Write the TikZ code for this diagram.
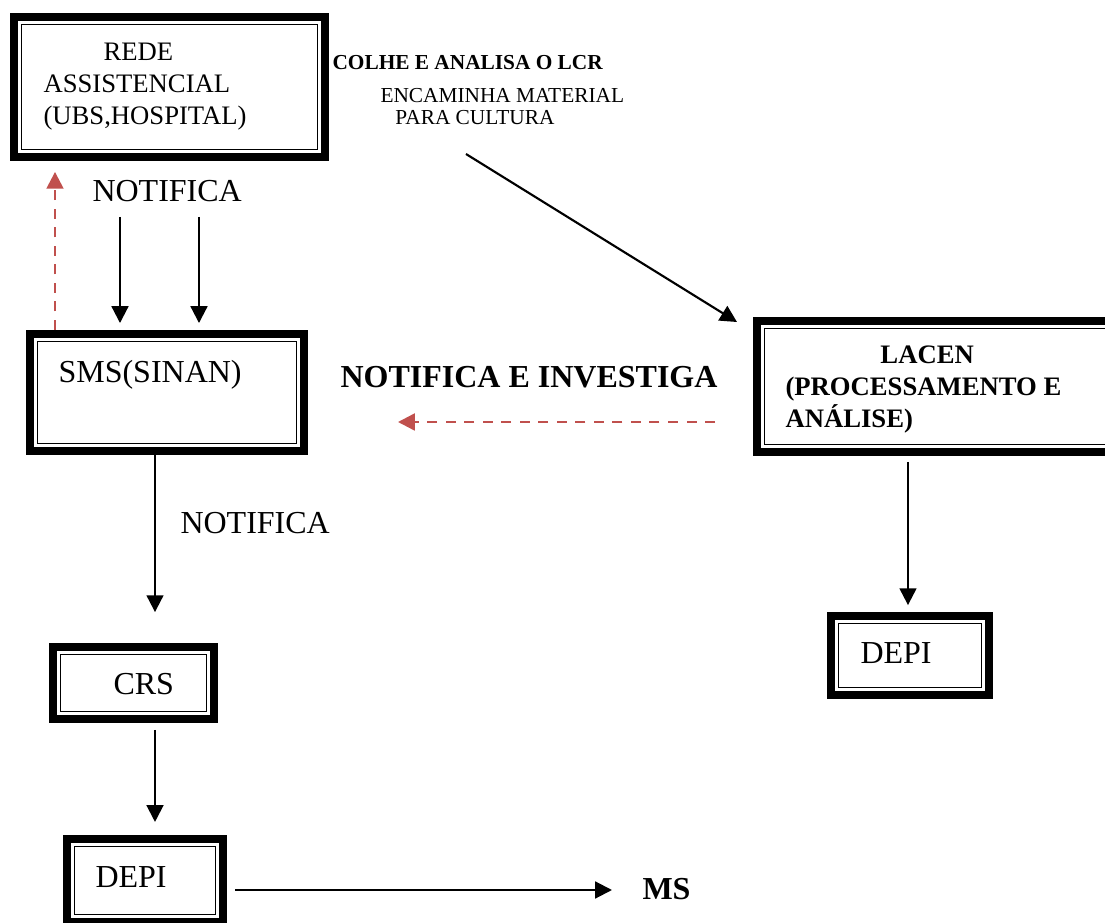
\documentclass[tikz,border=0pt]{standalone}
\usepackage{fontspec}
\setmainfont{Liberation Serif}
\usetikzlibrary{arrows.meta}
\definecolor{flowred}{HTML}{C0504D}

\begin{document}
\begin{tikzpicture}[x=0.375pt, y=-0.375pt, >={Triangle[length=6.3pt,width=6.3pt]},
    framed/.style={draw, line width=3pt, inner sep=0pt, outer sep=0pt,
      path picture={\draw[line width=0.65pt]
        ([shift={(2.8pt,2.8pt)}]path picture bounding box.south west) rectangle
        ([shift={(-2.8pt,-2.8pt)}]path picture bounding box.north east);}},
    lbl/.style={inner sep=0pt, anchor=base west, font=\fontsize{12}{12}\selectfont},
    small/.style={inner sep=0pt, anchor=north west, align=left},
    flow/.style={->, line width=0.8pt},
    back/.style={->, line width=0.95pt, flowred, dash pattern=on 3.75pt off 3.2pt}]
    \useasboundingbox (0,0) rectangle (1105,923);
    \clip (0,0) rectangle (1105,923);

    % boxes
    \node[framed, minimum width=116.6pt, minimum height=52.5pt] (rede) at (169.5,87) {};
    \node[framed, minimum width=102.75pt, minimum height=43.9pt] (sms) at (167,392.5) {};
    \node[framed, minimum width=136.1pt, minimum height=49.1pt] (lacen) at (938.5,386.5) {};
    \node[framed, minimum width=60.4pt, minimum height=27pt] (crs) at (133.5,683) {};
    \node[framed, minimum width=59.25pt, minimum height=29.6pt] (depiR) at (910,655.5) {};
    \node[framed, minimum width=58.5pt, minimum height=31.1pt] (depiL) at (145,880.5) {};

    % texts
    \node[small, font=\fontsize{10}{12}\selectfont] (redeTxt) at (43,43)
      {\hspace*{22.5pt}REDE\\ASSISTENCIAL\\(UBS,HOSPITAL)};
    \node[lbl, font=\fontsize{8}{8}\selectfont\bfseries] (colhe) at (332,70) {COLHE E ANALISA O LCR};
    \node[small, font=\fontsize{8}{8.1}\selectfont] (encam) at (380,88)
      {ENCAMINHA MATERIAL\\\hspace*{5.6pt}PARA CULTURA};
    \node[lbl] (notif1) at (92,202) {NOTIFICA};
    \node[lbl] (smsTxt) at (58,383) {SMS(SINAN)};
    \node[lbl, font=\fontsize{12}{12}\selectfont\bfseries] (notinv) at (340,388) {NOTIFICA E INVESTIGA};
    \node[small, font=\fontsize{10}{12}\selectfont\bfseries] (lacenTxt) at (785,345)
      {\hspace*{35.6pt}LACEN\\(PROCESSAMENTO E\\ANÁLISE)};
    \node[lbl] (notif2) at (180,534) {NOTIFICA};
    \node[lbl] (crsTxt) at (113,695) {CRS};
    \node[lbl] (depiRTxt) at (860,664) {DEPI};
    \node[lbl] (depiLTxt) at (95,888) {DEPI};
    \node[lbl, font=\fontsize{12}{12}\selectfont\bfseries] (ms) at (642,900) {MS};

    % connectors
    \coordinate (colA) at (55,0);
    \coordinate (colB) at (120,0);
    \coordinate (colC) at (199,0);
    \coordinate (colD) at (155,0);
    \coordinate (colE) at (908,0);
    \coordinate (rowA) at (0,422);
    \coordinate (rowB) at (0,890);
    \coordinate (lcr) at (466,154);

    \draw[back, shorten <=1.5pt, shorten >=5.6pt] (sms.north -| colA) -- (rede.south -| colA);
    \draw[flow, shorten <=22.5pt, shorten >=4.1pt] (rede.south -| colB) -- (sms.north -| colB);
    \draw[flow, shorten <=22.5pt, shorten >=4.1pt] (rede.south -| colC) -- (sms.north -| colC);
    \draw[flow] (lcr) -- ([shift={(-20,1)}]lacen.north west);
    \draw[back, shorten <=15.75pt, shorten >=35.25pt] (lacen.west |- rowA) -- (sms.east |- rowA);
    \draw[flow, shorten <=1.5pt, shorten >=13.1pt] (sms.south -| colD) -- (crs.north -| colD);
    \draw[flow, shorten <=4.1pt, shorten >=6.4pt] (crs.south -| colD) -- (depiL.north -| colD);
    \draw[flow, shorten <=3.75pt, shorten >=4.1pt] (lacen.south -| colE) -- (depiR.north -| colE);
    \draw[flow, shorten <=4.5pt, shorten >=11.25pt] (depiL.east |- rowB) -- (ms.west |- rowB);
\end{tikzpicture}
\end{document}
